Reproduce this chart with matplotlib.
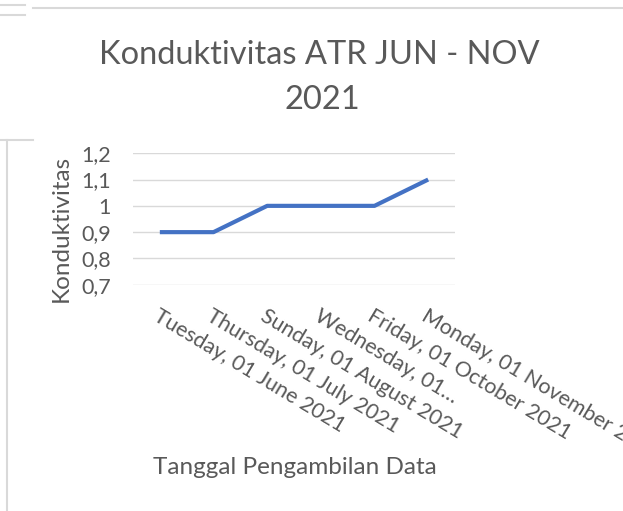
import matplotlib
matplotlib.use("Agg")
import matplotlib.pyplot as plt
from matplotlib.lines import Line2D

# data
dates = [
    "Tuesday, 01 June 2021",
    "Thursday, 01 July 2021",
    "Sunday, 01 August 2021",
    "Wednesday, 01\u2026",
    "Friday, 01 October 2021",
    "Monday, 01 November 2021",
]
konduktivitas = [0.9, 0.9, 1.0, 1.0, 1.0, 1.1]
y_ticks = [0.7, 0.8, 0.9, 1.0, 1.1, 1.2]
y_tick_labels = ["0,7", "0,8", "0,9", "1", "1,1", "1,2"]

plt.rcParams["font.family"] = ["Lato", "DejaVu Sans"]
text_color = "#595959"

W, H = 623, 511
fig = plt.figure(figsize=(W / 100, H / 100), dpi=100)
fig.patch.set_facecolor("white")

# plot area in pixels (left, top, right, bottom)
px_l, px_t, px_r, px_b = 133, 153, 455, 285
ax = fig.add_axes([px_l / W, 1 - px_b / H, (px_r - px_l) / W, (px_b - px_t) / H])

x = list(range(len(dates)))
ax.plot(x, konduktivitas, color="#4472C4", lw=3, solid_capstyle="butt", zorder=3)

ax.set_xlim(-0.5, len(dates) - 0.5)
ax.set_ylim(0.699, 1.201)
ax.set_yticks(y_ticks)
ax.set_yticklabels(y_tick_labels)
ax.set_xticks(x)
ax.set_xticklabels(dates, rotation=-31, ha="left", va="top", rotation_mode="anchor")

ax.grid(axis="y", color="#D9D9D9", lw=1)
ax.set_axisbelow(True)
for s in ax.spines.values():
    s.set_visible(False)
ax.tick_params(axis="both", length=0, labelcolor=text_color, labelsize=15.5)
ax.tick_params(axis="y", pad=16)
ax.tick_params(axis="x", pad=15)

# titles
fig.text(319 / W, 1 - 55 / H, "Konduktivitas ATR JUN - NOV", ha="center", va="center",
         fontsize=23.5, color=text_color)
fig.text(322 / W, 1 - 100 / H, "2021", ha="center", va="center",
         fontsize=23.5, color=text_color)
fig.text(61 / W, 1 - 228 / H, "Konduktivitas", ha="center", va="center",
         rotation=90, fontsize=17.5, color=text_color)
fig.text(295 / W, 1 - 468 / H, "Tanggal Pengambilan Data", ha="center", va="center",
         fontsize=17.5, color=text_color)

# border fragments of the neighbouring chart frames
border = "#D9D9D9"
frame = [
    ([33, 623], [8, 8]),
    ([0, 25], [5, 5]),
    ([0, 25], [15, 15]),
    ([0, 33], [140, 140]),
    ([7, 7], [140, 511]),
]
for xs, ys in frame:
    fig.add_artist(Line2D([v / W for v in xs], [1 - v / H for v in ys],
                          color=border, lw=1.5, transform=fig.transFigure))

fig.savefig("out.png", dpi=100)
